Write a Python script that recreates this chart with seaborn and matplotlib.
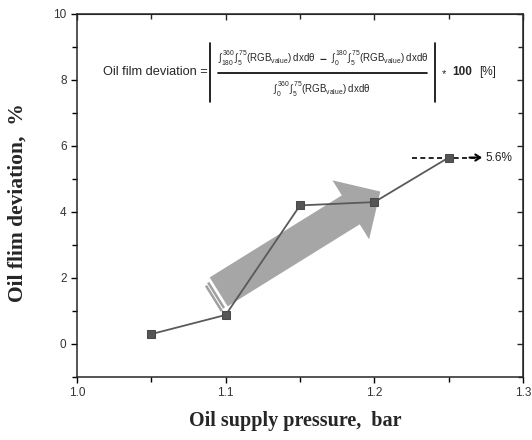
import numpy as np
import pandas as pd
import seaborn as sns
import matplotlib.pyplot as plt
from matplotlib.patches import FancyArrowPatch, ArrowStyle
from matplotlib.lines import Line2D
from matplotlib.ticker import MultipleLocator

# data
pressure = [1.05, 1.10, 1.15, 1.20, 1.25]
deviation = [0.30, 0.88, 4.20, 4.30, 5.65]
final_label = "5.6%"

# trend arrow (data coords, tail -> tip)
trend_tail = (1.0953, 1.58)
trend_tip = (1.204, 4.62)

sns.set_style("ticks")
plt.rcParams['font.family'] = ['Liberation Sans', 'DejaVu Sans']
plt.rcParams['mathtext.fontset'] = 'custom'
plt.rcParams['mathtext.rm'] = 'Liberation Sans'
plt.rcParams['mathtext.it'] = 'Liberation Sans'
plt.rcParams['mathtext.bf'] = 'Liberation Sans:bold'

W, H = 532, 440
fig = plt.figure(figsize=(W / 100, H / 100), dpi=100)
ax = fig.add_axes([77 / W, 1 - 377 / H, 446 / W, 363 / H])

def fpx(x, y):
    # figure pixel (from top-left) -> figure fraction
    return x / W, 1 - y / H

df = pd.DataFrame({'pressure': pressure, 'deviation': deviation})
sns.lineplot(data=df, x='pressure', y='deviation', ax=ax, color='#5a5a5a',
             lw=1.3, marker='s', markersize=6, markeredgecolor='#4a4a4a',
             markerfacecolor='#555555', zorder=5)

ax.set_xlim(1.0, 1.3)
ax.set_ylim(-1, 10)
ax.xaxis.set_minor_locator(MultipleLocator(0.05))
ax.yaxis.set_major_locator(MultipleLocator(2))
ax.yaxis.set_minor_locator(MultipleLocator(1))
ax.set_xticks([1.0, 1.1, 1.2, 1.3])
ax.set_xticklabels(['1.0', '1.1', '1.2', '1.3'])
ax.tick_params(which='both', direction='out', width=1.0, labelsize=8.5,
               labelcolor='#333333', color='black')
ax.tick_params(which='major', length=4)
ax.tick_params(which='minor', length=3.5)
for s in ax.spines.values():
    s.set_linewidth(1.1)

# mirrored inward ticks on top and right
top = ax.secondary_xaxis('top')
top.xaxis.set_major_locator(MultipleLocator(0.1))
top.xaxis.set_minor_locator(MultipleLocator(0.05))
top.tick_params(which='both', direction='in', labeltop=False, width=1.0)
top.tick_params(which='major', length=4)
top.tick_params(which='minor', length=3.5)
right = ax.secondary_yaxis('right')
right.yaxis.set_major_locator(MultipleLocator(2))
right.yaxis.set_minor_locator(MultipleLocator(1))
right.tick_params(which='both', direction='in', labelright=False, width=1.0)
right.tick_params(which='major', length=4)
right.tick_params(which='minor', length=3.5)

ax.set_xlabel("Oil supply pressure,  bar", fontfamily='Liberation Serif',
              fontweight='bold', fontsize=14.5)
ax.set_ylabel("Oil flim deviation,  %", fontfamily='Liberation Serif',
              fontweight='bold', fontsize=15.5)
ax.xaxis.label.set_va('center')
ax.yaxis.label.set_va('center')
ax.xaxis.set_label_coords(0.489, -0.121)
ax.yaxis.set_label_coords(-0.134, 0.479)

# big grey trend arrow behind the line
style = ArrowStyle.Simple(head_length=25, head_width=50, tail_width=24.5)
arrow = FancyArrowPatch(trend_tail, trend_tip, arrowstyle=style,
                        color='#a6a6a6', lw=0, shrinkA=0, shrinkB=0,
                        mutation_scale=1, zorder=2)
ax.add_patch(arrow)

# striped tail
p0 = ax.transData.transform(trend_tail)
p1 = ax.transData.transform(trend_tip)
d = (p1 - p0) / np.hypot(*(p1 - p0))
n = np.array([d[1], -d[0]])
half = 34 / 2
inv = ax.transData.inverted()
for back, shift in [(4.0, 1.5), (7.5, 3.0)]:
    a = p0 - d * back + n * (half - 2 + shift)
    b = p0 - d * back - n * (half - 2 - shift)
    pa, pb = inv.transform(a), inv.transform(b)
    ax.plot([pa[0], pb[0]], [pa[1], pb[1]], color='#a0a0a0', lw=1.8,
            solid_capstyle='butt', zorder=2)

# dashed pointer to final value
ax.plot([1.2255, 1.268], [deviation[-1], deviation[-1]], ls='--',
        color='black', lw=1.2, dashes=(3, 2), zorder=4)
ax.annotate('', xy=(1.2725, deviation[-1]), xytext=(1.264, deviation[-1]),
            arrowprops=dict(arrowstyle='->,head_length=0.35,head_width=0.22',
                            color='black', lw=1.5, shrinkA=0, shrinkB=0))
ax.text(1.2745, deviation[-1], final_label, fontsize=8.5, va='center',
        ha='left', color='#222222')

# formula box
fig.text(*fpx(103, 72), "Oil film deviation =", fontsize=9.2, va='center', ha='left')
integ = r'$\int_{%s}^{%s}\,\int_{5}^{75}(\mathrm{RGB}_{\mathrm{value}})\;\mathrm{dxd}\theta$'
fig.text(*fpx(267, 58), integ % ('180', '360'), fontsize=7, va='center', ha='center')
fig.text(*fpx(323, 58), r'$\mathbf{-}$', fontsize=8.5, va='center', ha='center')
fig.text(*fpx(380, 58), integ % ('0', '180'), fontsize=7, va='center', ha='center')
fig.text(*fpx(322, 89), integ % ('0', '360'), fontsize=7, va='center', ha='center')
for xs, ys in [((218, 427), (73, 73)), ((210, 210), (43, 102)), ((435, 435), (43, 102))]:
    fig.add_artist(Line2D([x / W for x in xs], [1 - y / H for y in ys],
                          color='black', lw=1.2))
fig.text(*fpx(442, 74), "*", fontsize=8, va='center', ha='left')
fig.text(*fpx(452, 72), "100", fontsize=8.5, fontweight='bold', va='center', ha='left')
fig.text(*fpx(479, 72), "[%]", fontsize=8.5, va='center', ha='left')

fig.savefig('out.png', dpi=100)
